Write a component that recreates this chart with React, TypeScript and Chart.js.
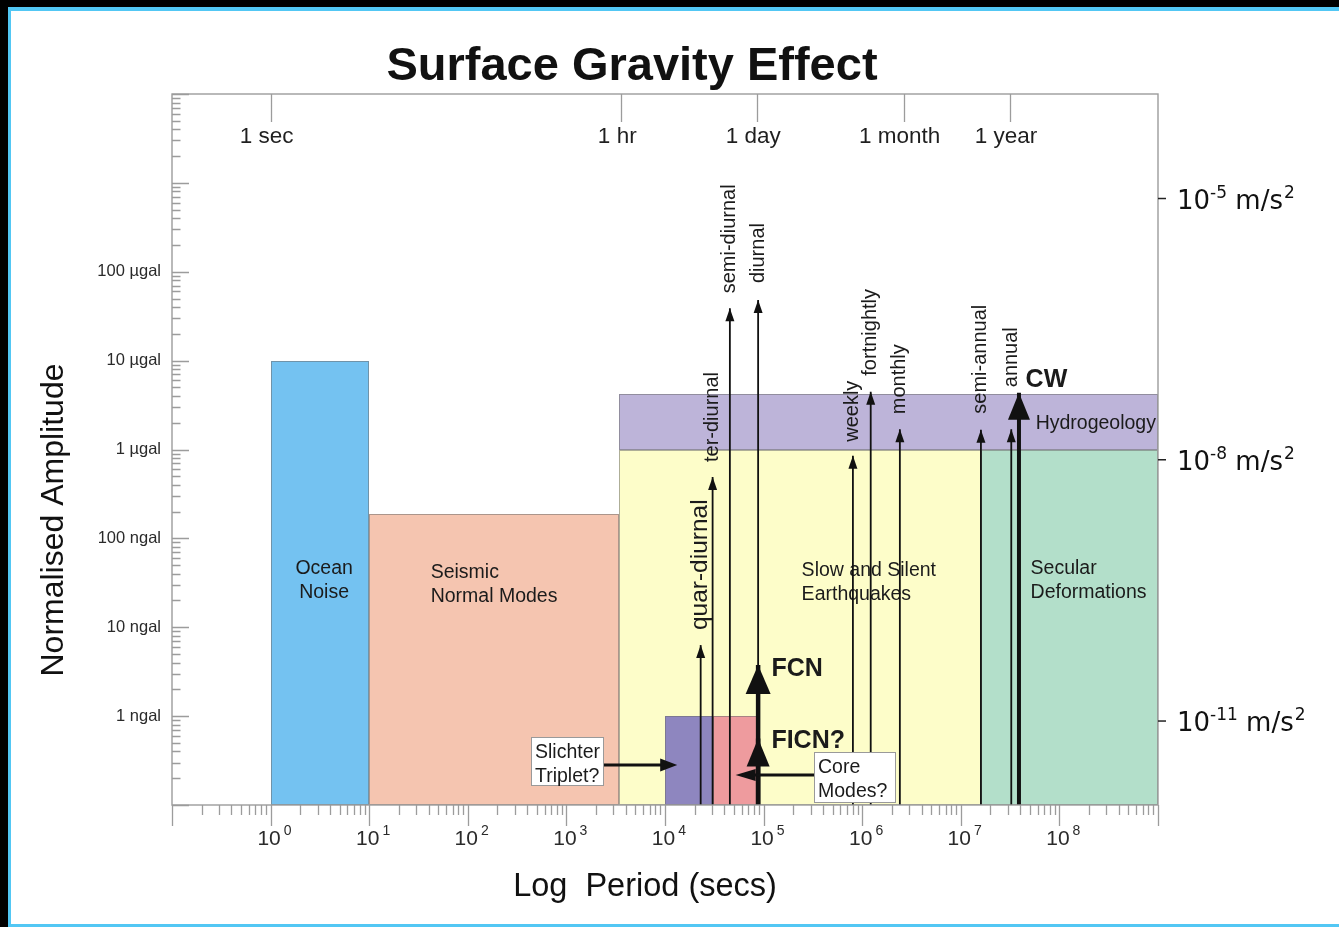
import { useEffect, useRef } from 'react';
import { Chart, registerables } from 'chart.js';

Chart.register(...registerables);

const SANS = '"Liberation Sans", Arial, Helvetica, sans-serif';
const WIDE = '"DejaVu Sans", Verdana, sans-serif';

// ---------- axis ranges ----------
const periodRange = [0.1, 1e9]; // seconds
const amplitudeRange = [1e-4, 1e4]; // µgal
const accelRange = [1.086e-12, 1.585e-4]; // m/s², right-hand axis

// ---------- ticks and tick labels ----------
const periodDecadeExponents = [-1, 0, 1, 2, 3, 4, 5, 6, 7, 8, 9];
const periodLabelExponents = [0, 1, 2, 3, 4, 5, 6, 7, 8];
const amplitudeDecadeExponents = [-4, -3, -2, -1, 0, 1, 2, 3, 4];
const amplitudeLabelValues = [100, 10, 1, 0.1, 0.01, 0.001];
const amplitudeLabels = ['100 µgal', '10 µgal', '1 µgal', '100 ngal', '10 ngal', '1 ngal'];
const timeMarkLabels = ['1 sec', '1 hr', '1 day', '1 month', '1 year'];
const timeMarkPeriods = [1, 3600, 86400, 2.63e6, 3.156e7];
const accelExponents = [-5, -8, -11];

// ---------- signal bands (period span in s, amplitude span in µgal) ----------
const bandNames = ['Ocean\nNoise', 'Seismic\nNormal Modes', 'Slow and Silent\nEarthquakes', 'Hydrogeology', 'Secular\nDeformations', '', ''];
const bandPeriodFrom = [1, 10, 3400, 3400, 1.6e7, 1e4, 3.05e4];
const bandPeriodTo = [10, 3400, 1.6e7, 1e9, 1e9, 3.05e4, 8.6e4];
const bandAmpLow = [1e-4, 1e-4, 1e-4, 1, 1e-4, 1e-4, 1e-4];
const bandAmpHigh = [10, 0.19, 1, 4.16, 1, 1e-3, 1e-3];

// ---------- tidal lines ----------
const tideNames = ['quar-diurnal', 'ter-diurnal', 'semi-diurnal', 'diurnal', 'weekly', 'fortnightly', 'monthly', 'semi-annual', 'annual'];
const tidePeriods = [2.3e4, 3.04e4, 4.55e4, 8.8e4, 8.05e5, 1.22e6, 2.41e6, 1.6e7, 3.25e7];
const tideAmps = [6.3e-3, 0.49, 38.8, 48, 0.85, 4.47, 1.69, 1.67, 1.69];

// ---------- rotational and core modes ----------
const modeNames = ['FCN', 'FICN?', 'CW'];
const modePeriods = [8.8e4, 8.8e4, 3.89e7];
const modeAmps = [3.76e-3, 5.6e-4, 4.36];

// ---------- call-outs ----------
const calloutLines = [['Slichter', 'Triplet?'], ['Core', 'Modes?']];
const calloutCornerPeriod = [433, 3.21e5];
const calloutCornerAmp = [5.8e-4, 3.98e-4];
const calloutTargetPeriod = [1.33e4, 5.2e4];
const calloutTargetAmp = [2.82e-4, 2.18e-4];

// ---------- styling ----------
const bandFill = ['#74c2f1', '#f5c5b0', '#fdfdc9', '#bdb4d9', '#b3dfca', '#8e86bf', '#ee9b9e'];
const bandLabelAnchor = [
  { period: 3.49, amp: 0.04, align: 'center' },
  { period: 42, amp: 0.0358, align: 'left' },
  { period: 2.43e5, amp: 0.0378, align: 'left' },
  { period: 5.74e7, amp: 1.7, align: 'left' },
  { period: 5.1e7, amp: 0.04, align: 'left' },
];
const tideLabelGap = [15, 15, 15, 17, 14, 16, 15, 16, 42];
const tideLabelSize = [24.5, 20, 20, 20, 20, 20, 20, 20, 20];
const modeShaftWidth = [4.5, 4.5, 4];
const modeHead = [
  { w: 25, h: 29 },
  { w: 23, h: 28 },
  { w: 22, h: 27 },
];
const modeLabelAnchor = [
  { period: 1.2e5, amp: 2.83e-3 },
  { period: 1.2e5, amp: 4.38e-4 },
  { period: 4.54e7, amp: 5.05 },
];
const calloutSize = [
  { w: 73, h: 49, side: 'right' },
  { w: 82, h: 51, side: 'left' },
];
const AXIS_GREY = '#9c9c9c';
const INK = '#1b1b1b';

const pow10 = (e: number) => Math.pow(10, e);

function headUp(ctx: CanvasRenderingContext2D, x: number, y: number, w: number, h: number) {
  ctx.beginPath();
  ctx.moveTo(x, y);
  ctx.lineTo(x + w / 2, y + h);
  ctx.lineTo(x - w / 2, y + h);
  ctx.closePath();
  ctx.fill();
}

function headSide(ctx: CanvasRenderingContext2D, x: number, y: number, dir: number, len: number, w: number) {
  ctx.beginPath();
  ctx.moveTo(x, y);
  ctx.lineTo(x - dir * len, y - w / 2);
  ctx.lineTo(x - dir * len, y + w / 2);
  ctx.closePath();
  ctx.fill();
}

const backgroundPlugin = {
  id: 'pageBackground',
  beforeDraw(chart: any) {
    const { ctx, width, height } = chart;
    ctx.save();
    ctx.fillStyle = '#000';
    ctx.fillRect(0, 0, width, height);
    ctx.fillStyle = '#52c7f4';
    ctx.fillRect(8, 7, width - 8, height - 7);
    ctx.fillStyle = '#fff';
    ctx.fillRect(11, 11, width - 11, height - 11 - 3);
    ctx.restore();
  },
};

const bandsPlugin = {
  id: 'bands',
  beforeDatasetsDraw(chart: any) {
    const { ctx } = chart;
    const xs = chart.scales.x;
    const ys = chart.scales.y;
    ctx.save();
    bandNames.forEach((_, i) => {
      const x0 = Math.round(xs.getPixelForValue(bandPeriodFrom[i]));
      const x1 = Math.round(xs.getPixelForValue(bandPeriodTo[i]));
      const y0 = Math.round(ys.getPixelForValue(bandAmpHigh[i]));
      const y1 = Math.round(ys.getPixelForValue(bandAmpLow[i]));
      ctx.fillStyle = bandFill[i];
      ctx.fillRect(x0, y0, x1 - x0, y1 - y0);
      ctx.strokeStyle = 'rgba(110,110,110,0.55)';
      ctx.lineWidth = 1;
      ctx.strokeRect(x0 + 0.5, y0 + 0.5, x1 - x0 - 1, y1 - y0 - 1);
    });
    // band names
    ctx.fillStyle = INK;
    ctx.font = `19.5px ${SANS}`;
    ctx.textBaseline = 'alphabetic';
    bandLabelAnchor.forEach((a, i) => {
      const lines = bandNames[i].split('\n');
      const x = xs.getPixelForValue(a.period);
      const y = ys.getPixelForValue(a.amp);
      ctx.textAlign = a.align;
      lines.forEach((t, k) => ctx.fillText(t, x, y + k * 24));
    });
    ctx.restore();
  },
};

const overlayPlugin = {
  id: 'overlay',
  afterDatasetsDraw(chart: any) {
    const { ctx, chartArea } = chart;
    const xs = chart.scales.x;
    const ys = chart.scales.y;
    const yr = chart.scales.yR;
    const { left, right, top, bottom } = chartArea;
    ctx.save();

    // arrow heads and names of tidal lines
    ctx.fillStyle = '#111';
    tideNames.forEach((name, i) => {
      const x = xs.getPixelForValue(tidePeriods[i]);
      const y = ys.getPixelForValue(tideAmps[i]);
      headUp(ctx, x, y, 9, 13);
      ctx.save();
      ctx.translate(x, y - tideLabelGap[i]);
      ctx.rotate(-Math.PI / 2);
      ctx.font = `${tideLabelSize[i]}px ${SANS}`;
      ctx.textAlign = 'left';
      ctx.textBaseline = 'middle';
      ctx.fillStyle = INK;
      ctx.fillText(name, 0, 0);
      ctx.restore();
    });

    // mode arrow heads and bold names
    modeNames.forEach((name, i) => {
      const x = xs.getPixelForValue(modePeriods[i]);
      const y = ys.getPixelForValue(modeAmps[i]);
      ctx.fillStyle = '#111';
      headUp(ctx, x, y, modeHead[i].w, modeHead[i].h);
      ctx.font = `bold 25px ${SANS}`;
      ctx.textAlign = 'left';
      ctx.textBaseline = 'alphabetic';
      ctx.fillStyle = INK;
      ctx.fillText(name, xs.getPixelForValue(modeLabelAnchor[i].period), ys.getPixelForValue(modeLabelAnchor[i].amp));
    });

    // call-out boxes with pointers
    calloutLines.forEach((lines, i) => {
      const bx = Math.round(xs.getPixelForValue(calloutCornerPeriod[i]));
      const by = Math.round(ys.getPixelForValue(calloutCornerAmp[i]));
      const { w, h, side } = calloutSize[i];
      const tx = xs.getPixelForValue(calloutTargetPeriod[i]);
      const ty = ys.getPixelForValue(calloutTargetAmp[i]);
      const sx = side === 'right' ? bx + w : bx;
      const dir = tx > sx ? 1 : -1;
      const headLen = side === 'right' ? 17 : 20;
      const headW = side === 'right' ? 13 : 12;
      ctx.strokeStyle = '#111';
      ctx.lineWidth = 3;
      ctx.beginPath();
      ctx.moveTo(sx, ty);
      ctx.lineTo(tx - dir * (headLen - 2), ty);
      ctx.stroke();
      ctx.fillStyle = '#111';
      headSide(ctx, tx, ty, dir, headLen, headW);

      ctx.fillStyle = '#fff';
      ctx.fillRect(bx, by, w, h);
      ctx.strokeStyle = '#9a9a9a';
      ctx.lineWidth = 1;
      ctx.strokeRect(bx + 0.5, by + 0.5, w - 1, h - 1);
      ctx.fillStyle = INK;
      ctx.font = `19.5px ${SANS}`;
      ctx.textAlign = 'left';
      ctx.textBaseline = 'alphabetic';
      lines.forEach((t, k) => ctx.fillText(t, bx + 4, by + 21 + k * 24));
    });

    // plot frame
    ctx.strokeStyle = AXIS_GREY;
    ctx.lineWidth = 1.4;
    ctx.strokeRect(left, top, right - left, bottom - top);

    // left axis: inward ticks
    ctx.lineWidth = 1.3;
    ctx.beginPath();
    amplitudeDecadeExponents.forEach((e) => {
      const yMaj = Math.round(ys.getPixelForValue(pow10(e))) + 0.5;
      ctx.moveTo(left, yMaj);
      ctx.lineTo(left + 17, yMaj);
      if (e < amplitudeDecadeExponents[amplitudeDecadeExponents.length - 1]) {
        for (let k = 2; k <= 9; k++) {
          const yMin = Math.round(ys.getPixelForValue(k * pow10(e))) + 0.5;
          ctx.moveTo(left, yMin);
          ctx.lineTo(left + 8.5, yMin);
        }
      }
    });
    // bottom axis: outward ticks
    periodDecadeExponents.forEach((e) => {
      const xMaj = Math.round(xs.getPixelForValue(pow10(e))) + 0.5;
      ctx.moveTo(xMaj, bottom);
      ctx.lineTo(xMaj, bottom + 21);
      if (e < periodDecadeExponents[periodDecadeExponents.length - 1]) {
        for (let k = 2; k <= 9; k++) {
          const xMin = Math.round(xs.getPixelForValue(k * pow10(e))) + 0.5;
          ctx.moveTo(xMin, bottom);
          ctx.lineTo(xMin, bottom + 10);
        }
      }
    });
    // top time marks
    timeMarkPeriods.forEach((p) => {
      const x = Math.round(xs.getPixelForValue(p)) + 0.5;
      ctx.moveTo(x, top);
      ctx.lineTo(x, top + 28);
    });
    ctx.stroke();

    // left tick labels
    ctx.fillStyle = '#2a2a2a';
    ctx.font = `16.5px ${SANS}`;
    ctx.textAlign = 'right';
    ctx.textBaseline = 'middle';
    amplitudeLabels.forEach((t, i) => {
      ctx.fillText(t, left - 11, ys.getPixelForValue(amplitudeLabelValues[i]));
    });

    // bottom tick labels: 10 with raised exponent
    ctx.textBaseline = 'alphabetic';
    periodLabelExponents.forEach((e) => {
      const x = xs.getPixelForValue(pow10(e)) - 1.5;
      ctx.font = `21px ${SANS}`;
      const w = ctx.measureText('10').width;
      ctx.textAlign = 'left';
      ctx.fillText('10', x - w / 2, bottom + 40);
      ctx.font = `14px ${SANS}`;
      ctx.fillText(String(e), x + w / 2 + 3, bottom + 30);
    });

    // top time labels
    ctx.font = `22.5px ${SANS}`;
    ctx.textAlign = 'center';
    ctx.fillStyle = '#1f1f1f';
    timeMarkLabels.forEach((t, i) => {
      ctx.fillText(t, xs.getPixelForValue(timeMarkPeriods[i]) - 4, top + 49);
    });

    // right-hand acceleration labels
    accelExponents.forEach((e) => {
      const y = yr.getPixelForValue(pow10(e));
      ctx.strokeStyle = '#222';
      ctx.lineWidth = 1.5;
      ctx.beginPath();
      ctx.moveTo(right, y);
      ctx.lineTo(right + 8, y);
      ctx.stroke();
      ctx.fillStyle = '#111';
      ctx.textAlign = 'left';
      let x = right + 19;
      const base = y + 10;
      ctx.font = `26px ${WIDE}`;
      ctx.fillText('10', x, base);
      x += ctx.measureText('10').width;
      ctx.font = `17px ${WIDE}`;
      ctx.fillText(String(e), x, base - 11);
      x += ctx.measureText(String(e)).width;
      ctx.font = `26px ${WIDE}`;
      ctx.fillText(' m/s', x, base);
      x += ctx.measureText(' m/s').width;
      ctx.font = `17px ${WIDE}`;
      ctx.fillText('2', x + 1, base - 11);
    });

    // titles
    ctx.fillStyle = '#111';
    ctx.textAlign = 'center';
    ctx.textBaseline = 'alphabetic';
    ctx.font = `bold 47px ${SANS}`;
    ctx.fillText('Surface Gravity Effect', 632, 80);
    ctx.font = `32.5px ${SANS}`;
    ctx.fillText('Log  Period (secs)', 645, 896);
    ctx.save();
    ctx.translate(63, 520);
    ctx.rotate(-Math.PI / 2);
    ctx.font = `32px ${SANS}`;
    ctx.fillText('Normalised Amplitude', 0, 0);
    ctx.restore();

    ctx.restore();
  },
};

function buildDatasets() {
  const tides = tideNames.map((name, i) => ({
    label: name,
    data: [
      { x: tidePeriods[i], y: amplitudeRange[0] },
      { x: tidePeriods[i], y: tideAmps[i] },
    ],
    showLine: true,
    borderColor: '#111',
    borderWidth: 1.8,
    pointRadius: 0,
  }));
  const modes = modeNames.map((name, i) => ({
    label: name,
    data: [
      { x: modePeriods[i], y: amplitudeRange[0] },
      { x: modePeriods[i], y: modeAmps[i] },
    ],
    showLine: true,
    borderColor: '#111',
    borderWidth: modeShaftWidth[i],
    pointRadius: 0,
  }));
  return [...tides, ...modes];
}

export default function App() {
  const canvasRef = useRef<HTMLCanvasElement>(null);

  useEffect(() => {
    const canvas = canvasRef.current;
    if (!canvas) return;
    const chart = new Chart(canvas, {
      type: 'scatter',
      data: { datasets: buildDatasets() as any },
      options: {
        responsive: false,
        animation: false,
        devicePixelRatio: 1,
        events: [],
        layout: { padding: { left: 172, top: 94, right: 181, bottom: 122 } },
        plugins: {
          legend: { display: false },
          tooltip: { enabled: false },
        },
        scales: {
          x: { type: 'logarithmic', min: periodRange[0], max: periodRange[1], display: false },
          y: { type: 'logarithmic', min: amplitudeRange[0], max: amplitudeRange[1], display: false },
          yR: { type: 'logarithmic', position: 'right', min: accelRange[0], max: accelRange[1], display: false },
        },
      } as any,
      plugins: [backgroundPlugin, bandsPlugin, overlayPlugin],
    });
    return () => chart.destroy();
  }, []);

  return (
    <div style={{ position: 'fixed', left: 0, top: 0, width: 1339, height: 927, background: '#000' }}>
      <canvas ref={canvasRef} width={1339} height={927} style={{ display: 'block' }} />
    </div>
  );
}
